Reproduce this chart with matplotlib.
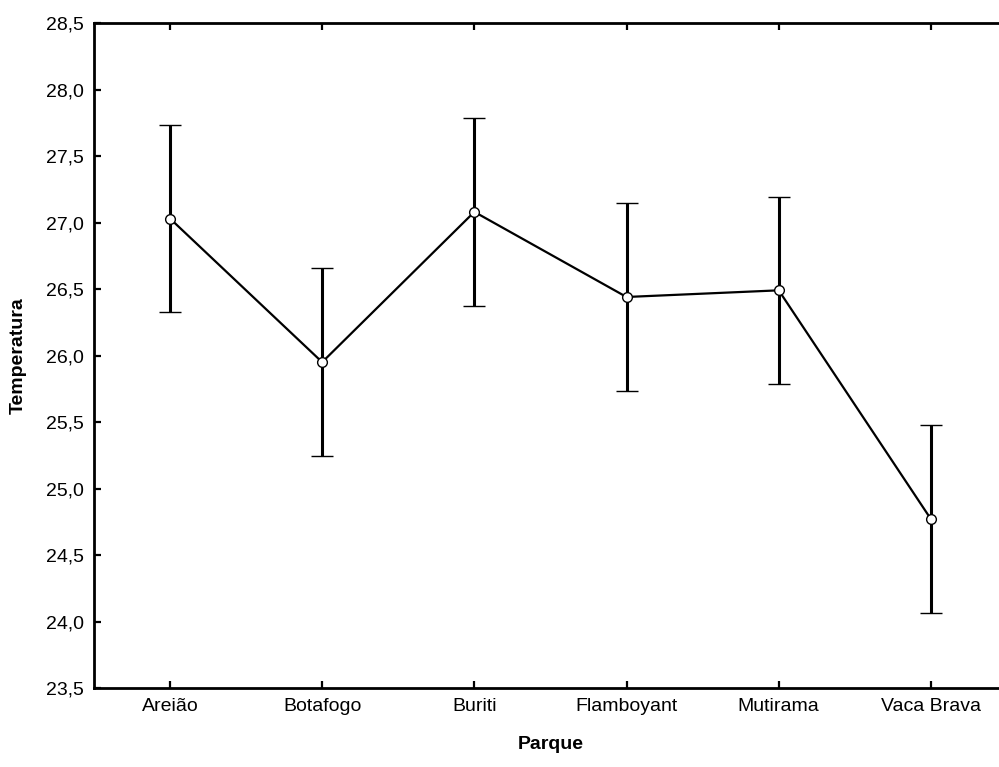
import numpy as np
import matplotlib.pyplot as plt

# dados
parques = ['Areião', 'Botafogo', 'Buriti', 'Flamboyant', 'Mutirama', 'Vaca Brava']
media = [27.03, 25.95, 27.08, 26.44, 26.49, 24.77]
erro = [0.705, 0.705, 0.705, 0.705, 0.705, 0.705]
yticks = [23.5, 24.0, 24.5, 25.0, 25.5, 26.0, 26.5, 27.0, 27.5, 28.0, 28.5]

plt.rcParams['font.family'] = ['Liberation Sans', 'DejaVu Sans']

fig = plt.figure(figsize=(9.99, 7.67), dpi=100)
ax = fig.add_axes([0.094, 0.103, 0.914, 0.867])

x = np.arange(len(parques))
ax.errorbar(x, media, yerr=erro, color='black', lw=1.6, elinewidth=2.2,
            capsize=8, capthick=2.2, marker='o', markersize=7,
            markerfacecolor='white', markeredgecolor='black', markeredgewidth=1.0)

ax.set_xlim(-0.5, 5.5)
ax.set_ylim(23.5, 28.5)
ax.set_xticks(x)
ax.set_xticklabels(parques)
ax.set_yticks(yticks)
ax.set_yticklabels([f'{v:.1f}'.replace('.', ',') for v in yticks])

ax.tick_params(direction='in', length=5, width=1.6, labelsize=14, top=True, pad=7)
for s in ax.spines.values():
    s.set_linewidth(2.0)

ax.set_xlabel('Parque', fontsize=14, fontweight='bold', labelpad=15)
ax.set_ylabel('Temperatura', fontsize=14, fontweight='bold', labelpad=14)

fig.savefig('out.png', dpi=100)
